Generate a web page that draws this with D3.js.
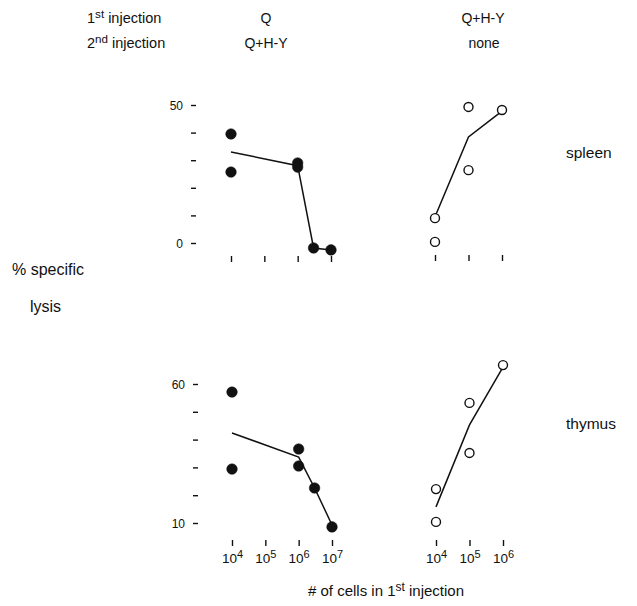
<!DOCTYPE html>
<html><head><meta charset="utf-8">
<script src="https://cdn.jsdelivr.net/npm/d3@7"></script>
<style>body{margin:0;background:#fff}text{font-family:"Liberation Sans",Arial,sans-serif;fill:#111}</style>
</head><body><svg id="c" width="637" height="606"></svg>
<script>
// ---- data ----
const spleenQ_x = [1e4, 1e4, 1e6, 1e6, 3e6, 1e7];
const spleenQ_y = [39.5, 25.7, 29, 27.5, -1.8, -2.5];
const spleenQ_lineX = [1e4, 1e6, 3e6, 1e7];
const spleenQ_lineY = [33, 28, -1.8, -2.5];

const spleenN_x = [1e4, 1e4, 1e5, 1e5, 1e6];
const spleenN_y = [9, 0.4, 49.3, 26.4, 48.2];
const spleenN_lineX = [1e4, 1e5, 1e6];
const spleenN_lineY = [9.5, 38.4, 47.8];

const thymusQ_x = [1e4, 1e4, 1e6, 1e6, 3e6, 1e7];
const thymusQ_y = [57.1, 29.4, 36.6, 30.5, 22.6, 8.6];
const thymusQ_lineX = [1e4, 1e6, 3e6, 1e7];
const thymusQ_lineY = [42.4, 33.7, 22.6, 9.3];

const thymusN_x = [1e4, 1e4, 1e5, 1e5, 1e6];
const thymusN_y = [22.2, 10.4, 53.2, 35.2, 66.8];
const thymusN_lineX = [1e4, 1e5, 1e6];
const thymusN_lineY = [15.8, 45.3, 66.1];

const leftXTicks = [1e4, 1e5, 1e6, 1e7];
const rightXTicks = [1e4, 1e5, 1e6];
const spleenYTicks = [0, 10, 20, 30, 40, 50];
const spleenYLabels = [0, 50];
const thymusYTicks = [10, 20, 30, 40, 50, 60];
const thymusYLabels = [10, 60];

// ---- drawing ----
const svg = d3.select("#c");

const ySpleen = d3.scaleLinear().domain([0, 50]).range([243, 105]);
const yThymus = d3.scaleLinear().domain([10, 60]).range([523, 384]);
const xLeftTop = d3.scaleLog().domain([1e4, 1e7]).range([231, 331]);
const xRightTop = d3.scaleLog().domain([1e4, 1e6]).range([435, 502]);
const xLeftBot = d3.scaleLog().domain([1e4, 1e7]).range([232, 332]);
const xRightBot = d3.scaleLog().domain([1e4, 1e6]).range([436, 503]);

function yAxis(scale, ticks, labels, x) {
  const g = svg.append("g").attr("transform", `translate(${x},0)`);
  const ax = d3.axisLeft(scale).tickValues(ticks).tickSize(0).tickFormat(d => labels.includes(d) ? d : "");
  g.call(ax);
  g.select(".domain").remove();
  g.selectAll(".tick").append("line").attr("x1", -2).attr("x2", 3).attr("stroke", "#111").attr("stroke-width", 1.4);
  g.selectAll(".tick text").attr("x", -10).attr("dy", "0.35em").style("font-size", "12px").style("font-family", "Liberation Sans, Arial, sans-serif").attr("fill", "#111");
}
function xAxis(scale, ticks, y, withLabels) {
  const g = svg.append("g").attr("transform", `translate(0,${y})`);
  const ax = d3.axisBottom(scale).tickValues(ticks).tickSize(0).tickFormat("");
  g.call(ax);
  g.select(".domain").remove();
  g.selectAll(".tick line").remove();
  g.selectAll(".tick").append("line").attr("y1", -3).attr("y2", 3).attr("stroke", "#111").attr("stroke-width", 1.4);
  if (withLabels) {
    g.selectAll(".tick text").remove();
    const t = g.selectAll(".tick").append("text").attr("y", 20).attr("text-anchor", "middle")
      .style("font-size", "13.5px").attr("fill", "#111");
    t.append("tspan").text("10");
    t.append("tspan").attr("dy", "-5").style("font-size", "11px").text(d => Math.round(Math.log10(d)));
  }
}

function panel(xs, ys, lx, ly, xScale, yScale, filled) {
  const line = d3.line().x(d => xScale(d[0])).y(d => yScale(d[1]));
  svg.append("path").datum(lx.map((v, i) => [v, ly[i]]))
    .attr("d", line).attr("fill", "none").attr("stroke", "#111").attr("stroke-width", 1.5);
  svg.selectAll(null).data(xs.map((v, i) => [v, ys[i]])).enter().append("circle")
    .attr("cx", d => xScale(d[0])).attr("cy", d => yScale(d[1]))
    .attr("r", filled ? 5.3 : 4.5)
    .attr("fill", filled ? "#111" : "#fff")
    .attr("stroke", "#111").attr("stroke-width", filled ? 0.5 : 1.4);
}

yAxis(ySpleen, spleenYTicks, spleenYLabels, 193);
yAxis(yThymus, thymusYTicks, thymusYLabels, 195);
xAxis(xLeftTop, leftXTicks, 259, false);
xAxis(xRightTop, rightXTicks, 258, false);
xAxis(xLeftBot, leftXTicks, 543, true);
xAxis(xRightBot, rightXTicks, 543, true);

panel(spleenQ_x, spleenQ_y, spleenQ_lineX, spleenQ_lineY, xLeftTop, ySpleen, true);
panel(spleenN_x, spleenN_y, spleenN_lineX, spleenN_lineY, xRightTop, ySpleen, false);
panel(thymusQ_x, thymusQ_y, thymusQ_lineX, thymusQ_lineY, xLeftBot, yThymus, true);
panel(thymusN_x, thymusN_y, thymusN_lineX, thymusN_lineY, xRightBot, yThymus, false);

// ---- texts ----
function supText(x, y, pre, sup, post, size, anchor) {
  const t = svg.append("text").attr("x", x).attr("y", y).attr("text-anchor", anchor || "start").style("font-size", size + "px");
  t.append("tspan").text(pre);
  t.append("tspan").attr("dy", -5).style("font-size", (size * 0.8) + "px").text(sup);
  t.append("tspan").attr("dy", 5).text(post);
  return t;
}
supText(87, 23, "1", "st", " injection", 14.5);
supText(87, 48, "2", "nd", " injection", 14.5);
svg.append("text").attr("x", 266).attr("y", 23).attr("text-anchor", "middle").style("font-size", "14px").text("Q");
svg.append("text").attr("x", 266).attr("y", 48).attr("text-anchor", "middle").style("font-size", "14px").text("Q+H-Y");
svg.append("text").attr("x", 483).attr("y", 23).attr("text-anchor", "middle").style("font-size", "14px").text("Q+H-Y");
svg.append("text").attr("x", 484).attr("y", 48).attr("text-anchor", "middle").style("font-size", "14px").text("none");
svg.append("text").attr("x", 566).attr("y", 158).style("font-size", "15.5px").text("spleen");
svg.append("text").attr("x", 566).attr("y", 429).style("font-size", "15.5px").text("thymus");
svg.append("text").attr("x", 12).attr("y", 275).style("font-size", "16px").text("% specific");
svg.append("text").attr("x", 30).attr("y", 312).style("font-size", "16px").text("lysis");
supText(386, 596, "# of cells in 1", "st", " injection", 15, "middle");
</script></body></html>
